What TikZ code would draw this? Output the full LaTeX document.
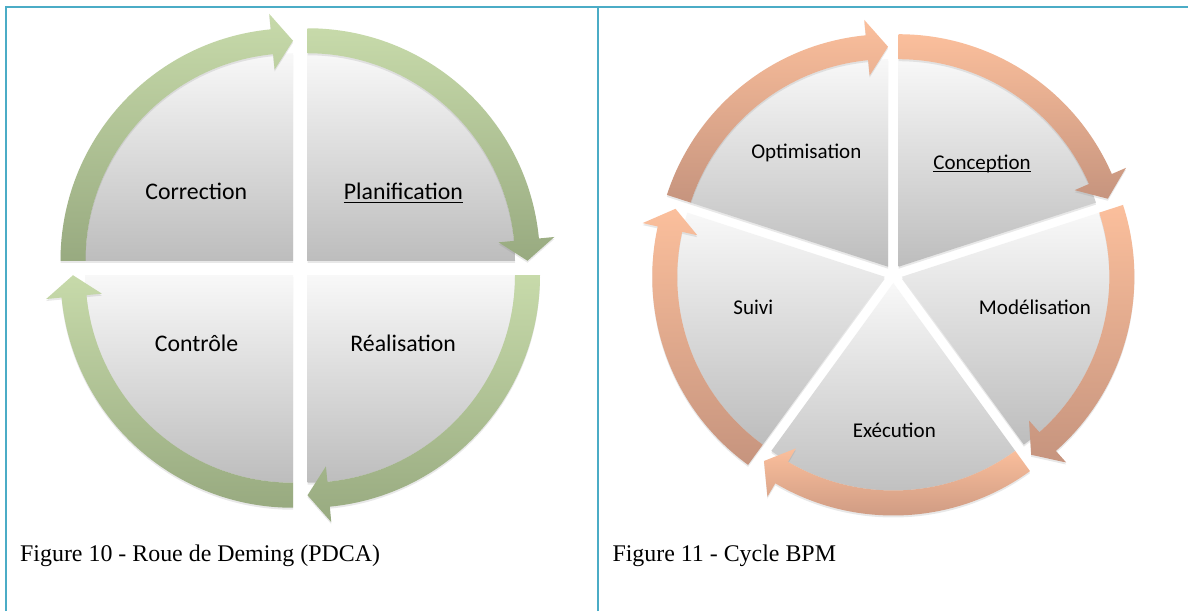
\documentclass[tikz,border=0pt]{standalone}
\usepackage{fontspec}
\setmainfont{Liberation Serif}
\newfontfamily\calibri{Carlito}
\usetikzlibrary{calc,shadows}

\definecolor{bordure}{HTML}{4BACC6}
\definecolor{vertclair}{HTML}{C7DAAA}
\definecolor{vertfonce}{HTML}{98AA80}
\definecolor{pecheclair}{HTML}{FBBF9C}
\definecolor{pechefonce}{HTML}{C6947E}
\definecolor{partclair}{HTML}{F8F8F8}
\definecolor{partfonce}{HTML}{BDBDBD}

\tikzstyle{ombre} = [drop shadow={shadow xshift=0pt, shadow yshift=-2pt, opacity=0.18}]
\tikzstyle{part} = [ombre, top color=partclair, bottom color=partfonce]
\tikzstyle{flecheverte} = [ombre, top color=vertclair, bottom color=vertfonce]
\tikzstyle{flechepeche} = [ombre, top color=pecheclair, bottom color=pechefonce]
\tikzstyle{etape} = [font=\calibri\fontsize{23.8}{28}\selectfont, inner sep=0pt, anchor=base]
\tikzstyle{etapebpm} = [font=\calibri\fontsize{21}{25}\selectfont, inner sep=0pt, anchor=base]
\tikzstyle{legende} = [font=\fontsize{23.9}{28}\selectfont, inner sep=0pt, anchor=base west]
\tikzstyle{souligne} = [line width=1.2pt]

\begin{document}
\begin{tikzpicture}[x=1pt, y=1pt]
  \useasboundingbox (0, 0) rectangle (1188, 611);
  \fill[white] (0, 0) rectangle (1188, 611);
  % cadre du tableau
  \draw[bordure, line width=2pt] (6, 0) -- (6, 604.3) -- (1188, 604.3);
  \draw[bordure, line width=2pt] (597.7, 0) -- (597.7, 604.3);

  % roue de Deming
  \coordinate (cg) at (300.25, 343);
  \foreach \a in {180, 90, 0, -90} {
    \begin{scope}[shift={(cg)}, shift={(\a-45:10.25)}]
      \path[part] (0, 0) -- (\a:207.5) arc[start angle=\a, end angle=\a-90, radius=207.5] -- cycle;
    \end{scope}
  }
  \foreach \a in {180, 90, 0, -90} {
    \begin{scope}[shift={(cg)}, shift={(\a-45:10.25)}]
      \path[flecheverte] (\a:232.5) arc[start angle=\a, end angle=\a-84.5, radius=232.5]
        -- (\a-84.5:248) -- (\a-90:220) -- (\a-84.5:192) -- (\a-84.5:207.5)
        arc[start angle=\a-84.5, end angle=\a, radius=207.5] -- cycle;
    \end{scope}
  }
  \node[etape] (correction) at (196.3, 411.5) {Correction};
  \node[etape] (planification) at (403.4, 411.5) {Planification};
  \node[etape] (controle) at (196.5, 259) {Contrôle};
  \node[etape] (realisation) at (403.2, 259) {Réalisation};
  \draw[souligne] ([yshift=-2.8pt]planification.base west) -- ([yshift=-2.8pt]planification.base east);

  % cycle BPM
  \coordinate (cd) at (893.3, 337);
  \foreach \a in {90, 18, -54, -126, -198} {
    \begin{scope}[shift={(cd)}, shift={(\a-36:9)}]
      \path[part] (0, 0) -- (\a:207.5) arc[start angle=\a, end angle=\a-72, radius=207.5] -- cycle;
    \end{scope}
  }
  \foreach \a in {90, 18, -54, -126, -198} {
    \begin{scope}[shift={(cd)}, shift={(\a-36:9)}]
      \path[flechepeche] (\a:232.5) arc[start angle=\a, end angle=\a-66.5, radius=232.5]
        -- (\a-66.5:248) -- (\a-72:220) -- (\a-66.5:192) -- (\a-66.5:207.5)
        arc[start angle=\a-66.5, end angle=\a, radius=207.5] -- cycle;
    \end{scope}
  }
  \node[etapebpm] (optimisation) at (806.3, 452.2) {Optimisation};
  \node[etapebpm] (conception) at (982, 441.7) {Conception};
  \node[etapebpm] (modelisation) at (1035, 296) {Modélisation};
  \node[etapebpm] (suivi) at (753.3, 296) {Suivi};
  \node[etapebpm] (execution) at (894.3, 173.3) {Exécution};
  \draw[souligne] ([yshift=-2.5pt]conception.base west) -- ([yshift=-2.5pt]conception.base east);

  % legendes
  \node[legende] (fig10) at (20, 50) {Figure 10 - Roue de Deming (PDCA)};
  \node[legende] (fig11) at (612.3, 50) {Figure 11 - Cycle BPM};
\end{tikzpicture}
\end{document}
